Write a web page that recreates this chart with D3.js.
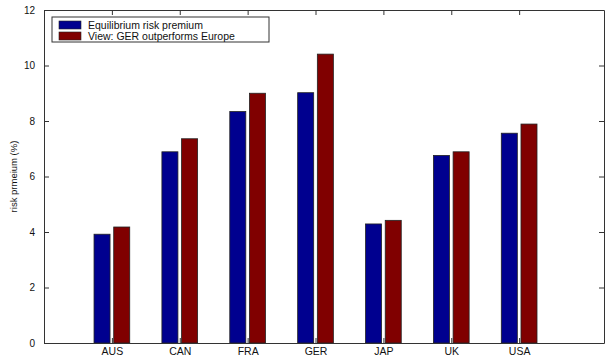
<!DOCTYPE html>
<html>
<head>
<meta charset="utf-8">
<script src="https://cdn.jsdelivr.net/npm/d3@7"></script>
<style>
  html, body { margin: 0; padding: 0; background: #fff; }
  svg { display: block; font-family: "Liberation Sans", Arial, sans-serif; }
</style>
</head>
<body>
<svg id="chart" width="605" height="357"></svg>
<script>
// Country groups and the two risk-premium series (%)
const countries = ["AUS", "CAN", "FRA", "GER", "JAP", "UK", "USA"];
const equilibrium = [3.92, 6.89, 8.34, 9.02, 4.29, 6.76, 7.56];
const view = [4.18, 7.36, 9.00, 10.41, 4.42, 6.89, 7.89];
const seriesNames = ["Equilibrium risk premium", "View: GER outperforms Europe"];
const seriesColors = ["#00008f", "#800000"];
const yTicks = [0, 2, 4, 6, 8, 10, 12];

const svg = d3.select("#chart");
const plotLeft = 44, plotRight = 604, plotTop = 10, plotBottom = 343;

// Bar positions follow a numeric x axis: group i sits at i + 1
const x = d3.scaleLinear().domain([0, 8.25]).range([plotLeft, plotRight]);
const y = d3.scaleLinear().domain([0, 12]).range([plotBottom, plotTop]);

const barW = 0.236, offset = 0.145;
const series = [equilibrium, view];

series.forEach((vals, s) => {
  svg.append("g").selectAll("rect")
    .data(vals)
    .join("rect")
    .attr("x", (d, i) => x(i + 1 + (s === 0 ? -offset : offset) - barW / 2))
    .attr("width", x(barW) - x(0))
    .attr("y", d => y(d))
    .attr("height", d => y(0) - y(d))
    .attr("fill", seriesColors[s])
    .attr("stroke", "#222")
    .attr("stroke-width", 0.8);
});

// Box axes with inward ticks
const tickLen = 5;
const axisColor = "#333";
const yAxisL = d3.axisLeft(y).tickValues(yTicks).tickSizeInner(-tickLen).tickSizeOuter(0).tickPadding(9);
const gL = svg.append("g").attr("transform", `translate(${plotLeft},0)`).call(yAxisL);
const yAxisR = d3.axisRight(y).tickValues(yTicks).tickSizeInner(-tickLen).tickSizeOuter(0).tickFormat("");
const gR = svg.append("g").attr("transform", `translate(${plotRight},0)`).call(yAxisR);

const catTicks = countries.map((c, i) => i + 1);
const xAxisB = d3.axisBottom(x).tickValues(catTicks).tickSizeInner(-tickLen).tickSizeOuter(0)
  .tickFormat((d, i) => countries[i]);
const gB = svg.append("g").attr("transform", `translate(0,${plotBottom})`).call(xAxisB);
const xAxisT = d3.axisTop(x).tickValues(catTicks).tickSizeInner(-tickLen).tickSizeOuter(0).tickFormat("");
const gT = svg.append("g").attr("transform", `translate(0,${plotTop})`).call(xAxisT);

[gL, gR, gB, gT].forEach(g => {
  g.select(".domain").attr("stroke", axisColor).attr("stroke-width", 1);
  g.selectAll(".tick line").attr("stroke", axisColor);
  g.selectAll("text").attr("fill", "#111").style("font-size", "10px")
    .style("font-family", "'Liberation Sans', Arial, sans-serif");
});
gB.selectAll("text").attr("y", 12).attr("dy", "0").style("font-size", "10.5px");

// Y axis title
svg.append("text")
  .attr("transform", `translate(17,${(plotTop + plotBottom) / 2}) rotate(-90)`)
  .attr("text-anchor", "middle")
  .style("font-size", "9.5px")
  .attr("fill", "#111")
  .text("risk prmeium (%)");

// Legend
const lg = svg.append("g");
lg.append("rect").attr("x", 52).attr("y", 17).attr("width", 217).attr("height", 25)
  .attr("fill", "#fff").attr("stroke", "#333").attr("stroke-width", 1);
seriesNames.forEach((name, s) => {
  const yy = 21 + s * 11;
  lg.append("rect").attr("x", 59).attr("y", yy).attr("width", 22).attr("height", 8)
    .attr("fill", seriesColors[s]).attr("stroke", "#222").attr("stroke-width", 0.6);
  lg.append("text").attr("x", 88).attr("y", yy + 7.5)
    .style("font-size", "10.5px").attr("fill", "#111").text(name);
});
</script>
</body>
</html>
